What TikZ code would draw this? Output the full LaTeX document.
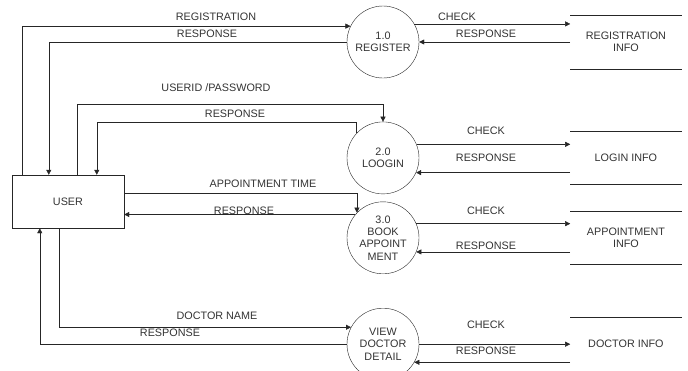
\documentclass[tikz,border=0pt]{standalone}
\usepackage{fontspec}
\setmainfont{Liberation Sans}
\usetikzlibrary{positioning}
\usetikzlibrary{arrows.meta}

\begin{document}
\begin{tikzpicture}[x=1pt, y=-1pt, font=\fontsize{10.8}{12.3}\selectfont, text=black!80,
    proc/.style={draw=black!85, circle, minimum size=72pt, inner sep=0pt, align=center},
    store/.style={minimum width=111pt, minimum height=53pt, inner sep=0pt, align=center},
    flow/.style={draw=black!85, -{Triangle[length=5pt, width=5pt]}},
    lbl/.style={inner sep=0pt}]

    \useasboundingbox (0,0) rectangle (688,370);

    % external entity
    \node(user)[draw=black!85, minimum width=112pt, minimum height=53pt] at (68,201.5){USER};

    % processes
    \node(P1)[proc] at (383,42){1.0\\REGISTER};
    \node(P2)[proc, below=43.5pt of P1]{2.0\\LOOGIN};
    \node(P3)[proc, below=7.5pt of P2]{3.0\\BOOK\\APPOINT\\MENT};
    \node(P4)[proc, below=34pt of P3]{VIEW\\DOCTOR\\DETAIL};

    % data stores
    \node(S1)[store, right=151pt of P1]{REGISTRATION\\INFO};
    \node(S2)[store, right=151pt of P2]{LOGIN INFO};
    \node(S3)[store, right=151pt of P3]{APPOINTMENT\\INFO};
    \node(S4)[store, right=151pt of P4]{DOCTOR INFO};
    \foreach \s in {S1,S2,S3,S4}
        \draw[black!85] (\s.north west) -- (\s.north east) (\s.south west) -- (\s.south east);

    % user <-> processes
    \draw[flow] ([xshift=10pt]user.north west) |- (P1.154);
    \draw[flow] (P1.west) -| ([xshift=37pt]user.north west);
    \draw[flow] ([xshift=65pt]user.north west) |- ([yshift=17.5pt]P2.north) -- (P2.north);
    \draw[flow] (P2.137) -- ++(0,-11) -| ([xshift=85pt]user.north west);
    \draw[flow] ([yshift=8.5pt]user.east) -| (P3.136);
    \draw[flow] (P3.140) -- (P3.140 -| user.east);
    \draw[flow] ([xshift=47pt]user.south west) |- (P4.152);
    \draw[flow] (P4.west) -| ([xshift=28pt]user.south west);

    \node(lreg)[lbl] at (216,17){REGISTRATION};
    \node(lres1)[lbl] at (207,34){RESPONSE};
    \node(luid)[lbl] at (216,88){USERID /PASSWORD};
    \node(lres2)[lbl] at (235,114){RESPONSE};
    \node(lapp)[lbl] at (263,184){APPOINTMENT TIME};
    \node(lres3)[lbl] at (244,211){RESPONSE};
    \node(ldoc)[lbl] at (217,316){DOCTOR NAME};
    \node(lres4)[lbl] at (170,333){RESPONSE};

    % processes <-> stores
    \draw[flow] (P1.30) -- (P1.30 -| S1.west);
    \draw[flow] (P1.0 -| S1.west) -- (P1.0);
    \draw[flow] (P2.22) -- (P2.22 -| S2.west);
    \draw[flow] (P2.-24 -| S2.west) -- (P2.-24);
    \draw[flow] (P3.23) -- (P3.23 -| S3.west);
    \draw[flow] (P3.-23 -| S3.west) -- (P3.-23);
    \draw[flow] (P4.0) -- (P4.0 -| S4.west);
    \draw[flow] (P4.-30 -| S4.west) -- (P4.-30);

    \node(lchk1)[lbl] at (457,17){CHECK};
    \node(lsr1)[lbl] at (486,34){RESPONSE};
    \node(lchk2)[lbl] at (486,131){CHECK};
    \node(lsr2)[lbl] at (486,158){RESPONSE};
    \node(lchk3)[lbl] at (486,211){CHECK};
    \node(lsr3)[lbl] at (486,246){RESPONSE};
    \node(lchk4)[lbl] at (486,325){CHECK};
    \node(lsr4)[lbl] at (486,351){RESPONSE};

\end{tikzpicture}
\end{document}
